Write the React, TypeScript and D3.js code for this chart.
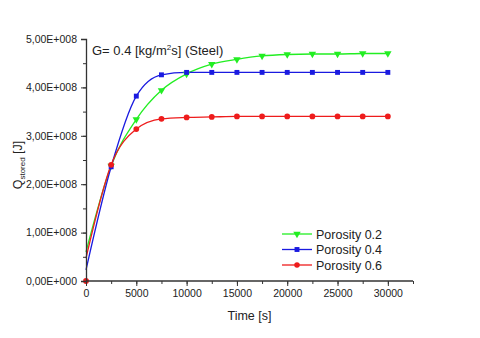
import React, { useEffect, useRef } from 'react';
import * as d3 from 'd3';

// time points [s]
const times = [0, 2500, 5000, 7500, 10000, 12500, 15000, 17500, 20000, 22500, 25000, 27500, 30000];

// stored heat [J] per porosity (value at t=0 is where the fitted curve starts)
const porosity02 = [0.6e8, 2.38e8, 3.34e8, 3.94e8, 4.28e8, 4.48e8, 4.58e8, 4.65e8, 4.68e8, 4.69e8, 4.69e8, 4.7e8, 4.7e8];
const porosity04 = [0.23e8, 2.36e8, 3.82e8, 4.26e8, 4.31e8, 4.31e8, 4.31e8, 4.31e8, 4.31e8, 4.31e8, 4.31e8, 4.31e8, 4.31e8];
const porosity06 = [0.47e8, 2.4e8, 3.14e8, 3.35e8, 3.38e8, 3.39e8, 3.4e8, 3.4e8, 3.4e8, 3.4e8, 3.4e8, 3.4e8, 3.4e8];

const seriesNames = ['Porosity 0.2', 'Porosity 0.4', 'Porosity 0.6'];
const seriesColors = ['#22ee22', '#1a1ae0', '#ee1c1c'];
const seriesShapes = [d3.symbolTriangle, d3.symbolSquare, d3.symbolCircle];

const yTicks = [0, 1e8, 2e8, 3e8, 4e8, 5e8];
const yTickLabels = ['0,00E+000', '1,00E+008', '2,00E+008', '3,00E+008', '4,00E+008', '5,00E+008'];
const xTicks = [0, 5000, 10000, 15000, 20000, 25000, 30000];

export default function App() {
  const ref = useRef<SVGSVGElement>(null);

  useEffect(() => {
    const svg = d3.select(ref.current);
    svg.selectAll('*').remove();

    const left = 86, right = 413, top = 39, bottom = 281;
    const font = 'Arial, "Liberation Sans", sans-serif';
    const axisColor = '#333';

    const x = d3.scaleLinear().domain([0, 32500]).range([left, right]);
    const y = d3.scaleLinear().domain([0, 5e8]).range([bottom, top]);

    const allSeries = [porosity02, porosity04, porosity06];

    // curves
    const line = d3
      .line<number>()
      .x((d, i) => x(times[i]))
      .y((d) => y(d))
      .curve(d3.curveMonotoneX);

    allSeries.forEach((vals, s) => {
      svg.append('path')
        .attr('d', line(vals))
        .attr('fill', 'none')
        .attr('stroke', seriesColors[s])
        .attr('stroke-width', 1.3);
    });

    // markers (skip t=0, curve start only)
    allSeries.forEach((vals, s) => {
      const sym = d3.symbol().type(seriesShapes[s]).size(s === 2 ? 26 : 24);
      const pts = vals.map((v, i) => ({ t: times[i], v })).filter((d) => d.t > 0);
      svg.append('g')
        .selectAll('path')
        .data(pts)
        .enter()
        .append('path')
        .attr('d', sym)
        .attr('transform', (d) => `translate(${x(d.t)},${y(d.v)})${s === 0 ? ' rotate(180)' : ''}`)
        .attr('fill', seriesColors[s]);
    });
    // red point at origin
    svg.append('path')
      .attr('d', d3.symbol().type(d3.symbolCircle).size(26))
      .attr('transform', `translate(${x(0)},${y(0)})`)
      .attr('fill', seriesColors[2]);

    // y axis
    const yAxis = svg.append('g').attr('transform', `translate(${left},0)`);
    yAxis.call(
      d3.axisLeft(y).tickValues(d3.range(0, 5e8 + 1, 0.5e8)).tickSize(3).tickFormat(() => '')
    );
    yAxis.call((g) => g.selectAll('.tick line').attr('stroke', axisColor));
    yAxis.select('.domain').remove();
    const yMajor = svg.append('g').attr('transform', `translate(${left},0)`);
    yMajor.call(
      d3.axisLeft(y).tickValues(yTicks).tickSize(5).tickPadding(4)
        .tickFormat((d, i) => yTickLabels[i])
    );
    yMajor.selectAll('.tick line').attr('stroke', axisColor);
    yMajor.select('.domain').attr('stroke', axisColor).attr('stroke-width', 1.3);
    yMajor.selectAll('text').attr('font-family', font).attr('font-size', 10.5).attr('fill', '#222');

    // x axis
    const xMinor = svg.append('g').attr('transform', `translate(0,${bottom})`);
    xMinor.call(
      d3.axisBottom(x).tickValues(d3.range(0, 32501, 2500)).tickSize(3).tickFormat(() => '')
    );
    xMinor.selectAll('.tick line').attr('stroke', axisColor);
    xMinor.select('.domain').remove();
    const xMajor = svg.append('g').attr('transform', `translate(0,${bottom})`);
    xMajor.call(d3.axisBottom(x).tickValues(xTicks).tickSize(5).tickPadding(4).tickFormat(d3.format('d')));
    xMajor.selectAll('.tick line').attr('stroke', axisColor);
    xMajor.select('.domain').attr('stroke', axisColor).attr('stroke-width', 1.3).attr('d', `M${left},0H${right}`);
    xMajor.selectAll('text').attr('font-family', font).attr('font-size', 10.5).attr('fill', '#222');

    // axis titles
    svg.append('text')
      .attr('x', (left + right) / 2)
      .attr('y', 320)
      .attr('text-anchor', 'middle')
      .attr('font-family', font)
      .attr('font-size', 12.5)
      .attr('fill', '#222')
      .text('Time [s]');

    const yl = svg.append('text')
      .attr('transform', `translate(22,165) rotate(-90)`)
      .attr('text-anchor', 'middle')
      .attr('font-family', font)
      .attr('font-size', 12.5)
      .attr('fill', '#222');
    yl.append('tspan').text('Q');
    yl.append('tspan').attr('font-size', 8).attr('dy', 3).text('stored');
    yl.append('tspan').attr('dy', -3).text(' [J]');

    // title
    const title = svg.append('text')
      .attr('x', 92)
      .attr('y', 55)
      .attr('font-family', font)
      .attr('font-size', 13)
      .attr('fill', '#222');
    title.append('tspan').text('G= 0.4 [kg/m');
    title.append('tspan').attr('font-size', 8).attr('dy', -5).text('2');
    title.append('tspan').attr('dy', 5).text('s] (Steel)');

    // legend
    seriesNames.forEach((name, s) => {
      const ly = 234 + s * 15.5;
      svg.append('line')
        .attr('x1', 282).attr('x2', 312).attr('y1', ly).attr('y2', ly)
        .attr('stroke', seriesColors[s]).attr('stroke-width', 1.3);
      svg.append('path')
        .attr('d', d3.symbol().type(seriesShapes[s]).size(24))
        .attr('transform', `translate(297,${ly})${s === 0 ? ' rotate(180)' : ''}`)
        .attr('fill', seriesColors[s]);
      svg.append('text')
        .attr('x', 316).attr('y', ly + 4.5)
        .attr('font-family', font).attr('font-size', 12.5).attr('fill', '#222')
        .text(name);
    });
  }, []);

  return (
    <svg ref={ref} width={480} height={338}
      style={{ position: 'absolute', left: 0, top: 0, background: '#fff' }} />
  );
}
